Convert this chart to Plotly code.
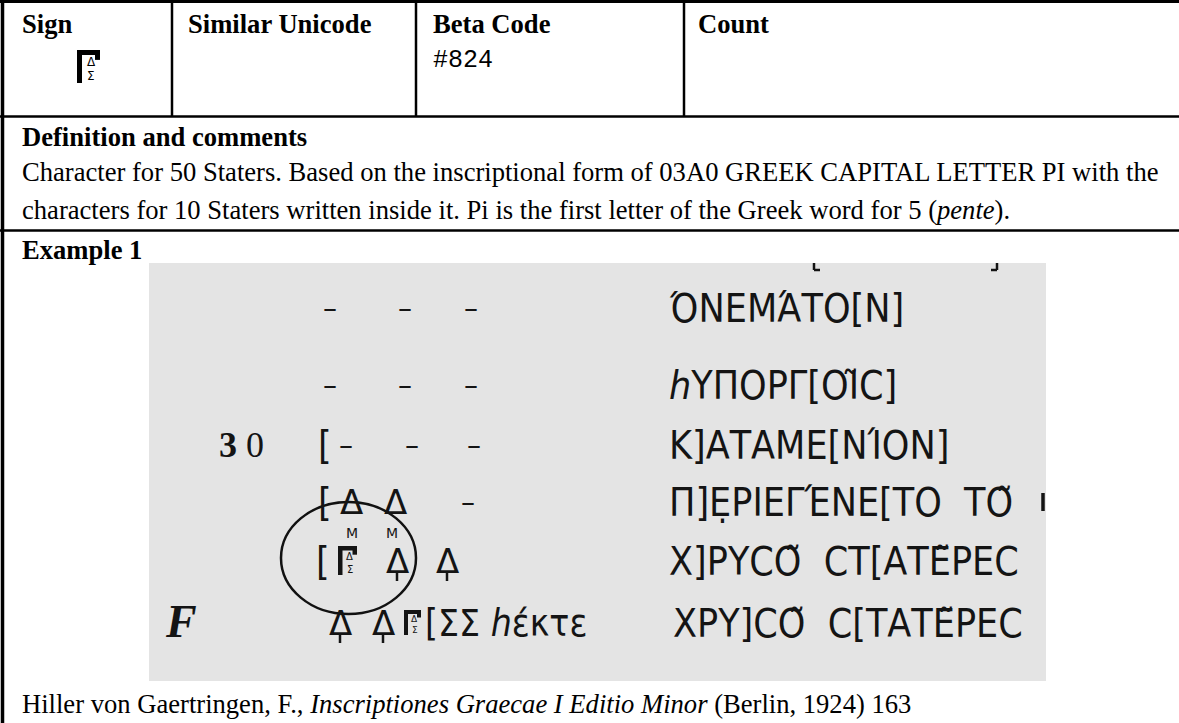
import plotly.graph_objects as go

W, H = 1179, 723

# ---------------- content ----------------
headers = ["Sign", "Similar Unicode", "Beta Code", "Count"]
header_x = [20, 186, 431, 696]
col_sep = [172, 416, 684]
beta_code = "#824"
def_title = "Definition and comments"
def_line1 = "Character for 50 Staters. Based on the inscriptional form of 03A0 GREEK CAPITAL LETTER PI with the"
def_line2 = "characters for 10 Staters written inside it. Pi is the first letter of the Greek word for 5 (<i>pente</i>)."
example_title = "Example 1"
caption = "Hiller von Gaertringen, F., <i>Inscriptiones Graecae I Editio Minor</i> (Berlin, 1924) 163"

# inscription: right-hand Greek text of each line
greek_lines = [
    "ΌΝΕΜΆΤΟ[Ν]",
    "<i>h</i>ΥΠΟΡΓ[ΟΙ͂Ϲ]",
    "Κ]ΑΤΑΜΕ[ΝΊΟΝ]",
    "Π]Ε̣ΡΙΕΓΈΝΕ[ΤΟ  ΤΟ͂",
    "Χ]ΡΥϹΟ͂  ϹΤ[ΑΤΕ͂ΡΕϹ",
    "ΧΡΥ]ϹΟ͂  Ϲ[ΤΑΤΕ͂ΡΕϹ",
]
last_line_mid = "[ΣΣ <i>h</i>έκτε"
line_number = "<b>3</b> 0"
margin_letter = "<b><i>F</i></b>"

FONT = "Liberation Serif"
BODY = 26.6
GREEK = "DejaVu Sans Condensed, DejaVu Sans"
SYM = "DejaVu Sans"
INK = "#141414"

fig = go.Figure()
fig.add_trace(go.Scatter(x=[0, W], y=[0, H], mode="markers", marker=dict(opacity=0),
                         hoverinfo="skip", showlegend=False))

shapes, ann = [], []

def line(x0, y0, x1, y1, w=2.5, c="black"):
    shapes.append(dict(type="line", x0=x0, y0=y0, x1=x1, y1=y1,
                       line=dict(color=c, width=w), layer="above"))

def text(x, y, s, size=BODY, fam=FONT, xa="left", ya="middle", color="black"):
    ann.append(dict(x=x, y=y, text=s, showarrow=False, xanchor=xa, yanchor=ya,
                    font=dict(family=fam, size=size, color=color)))

def sign(x0, y0, w, h, lw, c="black"):
    line(x0 + lw / 2, y0, x0 + lw / 2, y0 + h, lw, c)
    line(x0, y0 + lw / 2, x0 + w, y0 + lw / 2, lw, c)
    line(x0 + w - lw / 2, y0, x0 + w - lw / 2, y0 + h * 0.3, lw, c)
    fs = max(6, round(h * 0.35))
    text(x0 + w * 0.62, y0 + h * 0.37, "Δ", size=fs, fam=SYM, xa="center", color=c)
    text(x0 + w * 0.62, y0 + h * 0.80, "Σ", size=fs, fam=SYM, xa="center", color=c)

# ---------------- table frame ----------------
line(0, 1.5, W, 1.5, 3)
line(2.5, 0, 2.5, H, 3.5)
for cx in col_sep:
    line(cx, 0, cx, 117, 2.5)
line(0, 116.5, W, 116.5, 2.5)
line(0, 230.5, W, 230.5, 2.5)

# ---------------- header row ----------------
for h, hx in zip(headers, header_x):
    text(hx, 24, "<b>" + h + "</b>")
text(431, 60, beta_code, size=25, fam="Liberation Mono")
sign(77, 50, 23, 33, 5)

# ---------------- definition ----------------
text(20, 137, "<b>" + def_title + "</b>")
text(20, 172, def_line1)
text(20, 210, def_line2)
text(20, 250, "<b>" + example_title + "</b>")

# ---------------- example image ----------------
img_x0, img_x1, img_y0, img_y1 = 149, 1046, 263, 681
shapes.append(dict(type="rect", x0=img_x0, y0=img_y0, x1=img_x1, y1=img_y1,
                   fillcolor="#e4e4e4", line=dict(width=0), layer="below"))
# bracket fragments cut by the top edge
line(814, img_y0, 814, img_y0 + 7, 2.5, INK); line(814, img_y0 + 7, 820, img_y0 + 7, 2.5, INK)
line(997, img_y0, 997, img_y0 + 7, 2.5, INK); line(991, img_y0 + 7, 997, img_y0 + 7, 2.5, INK)

row_y = [308, 385, 445, 502, 561, 623]
GS = 39
for i, g in enumerate(greek_lines[:5]):
    text(667, row_y[i], g, size=GS, fam=GREEK, color=INK)
text(671, row_y[5], greek_lines[5], size=GS, fam=GREEK, color=INK)
text(423, row_y[5], last_line_mid, size=GS - 2, fam=GREEK, color=INK)
# partial letter at the right edge of line 4
line(1043, row_y[3] - 9, 1043, row_y[3] + 9, 3.5, INK)

# left-hand symbols
DS = 28
for r in (0, 1):
    for dx in (330, 405, 471):
        text(dx, row_y[r], "–", size=DS, fam=SYM, xa="center", color=INK)
text(241, row_y[2], line_number, size=36, fam=FONT, xa="center", color=INK)
text(316, row_y[2], "[", size=GS, fam=GREEK, color=INK)
for dx in (346, 412, 474):
    text(dx, row_y[2], "–", size=DS, fam=SYM, xa="center", color=INK)

text(316, row_y[3], "[", size=GS, fam=GREEK, color=INK)
text(351, row_y[3], "Δ", size=34, fam=SYM, xa="center", color=INK)
text(395, row_y[3], "Δ", size=34, fam=SYM, xa="center", color=INK)
text(468, row_y[3], "–", size=DS, fam=SYM, xa="center", color=INK)
text(352, 533, "Μ", size=14, fam=SYM, xa="center", color=INK)
text(392, 533, "Μ", size=14, fam=SYM, xa="center", color=INK)

text(314, row_y[4], "[", size=GS, fam=GREEK, color=INK)
sign(338, 546, 19, 29, 4.5, INK)
for dx in (397, 447):
    text(dx, row_y[4], "Δ", size=34, fam=SYM, xa="center", color=INK)
    line(dx, row_y[4] + 12, dx, row_y[4] + 20, 2.5, INK)

text(181, row_y[5] - 2, margin_letter, size=46, fam=FONT, xa="center", color=INK)
for dx in (340, 383):
    text(dx, row_y[5], "Δ", size=34, fam=SYM, xa="center", color=INK)
    line(dx, row_y[5] + 12, dx, row_y[5] + 20, 2.5, INK)
sign(404, 610, 17, 25, 4, INK)

shapes.append(dict(type="circle", x0=281, y0=502, x1=416, y1=614,
                   line=dict(color="#111", width=2.5), layer="above"))

# ---------------- caption ----------------
text(20, 704, caption)

fig.update_layout(width=W, height=H, margin=dict(l=0, r=0, t=0, b=0),
                  paper_bgcolor="white", plot_bgcolor="white",
                  xaxis=dict(range=[0, W], visible=False, fixedrange=True),
                  yaxis=dict(range=[H, 0], visible=False, fixedrange=True),
                  shapes=shapes, annotations=ann, showlegend=False)
fig.write_html("out.html", config={"displayModeBar": False},
               post_script="document.body.style.margin='0px';document.body.style.overflow='hidden';")
